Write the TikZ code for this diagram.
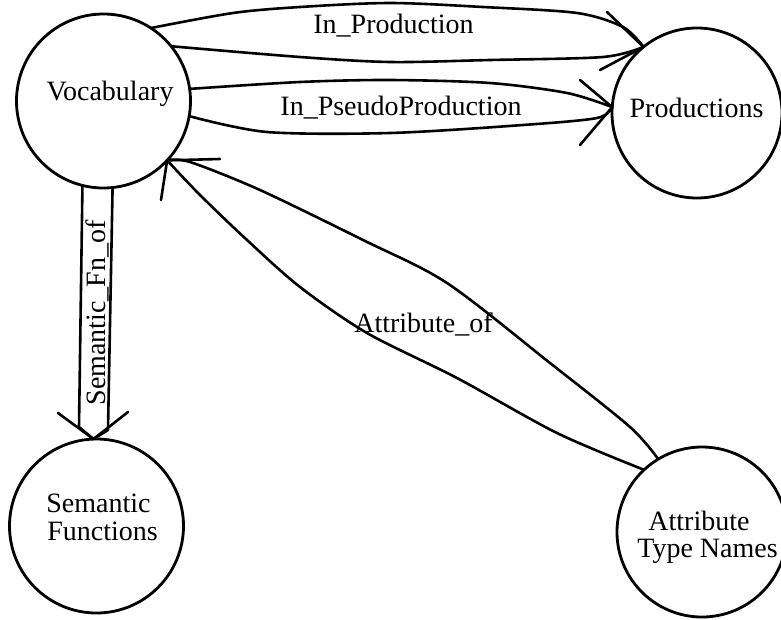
\documentclass[tikz,border=0pt]{standalone}
\usepackage{fontspec}
\setmainfont{Liberation Serif}
\begin{document}
\begin{tikzpicture}[x=1pt,y=-1pt,
  entity/.style={circle, draw, line width=2.8pt, minimum size=174pt, inner sep=0pt, outer sep=0pt},
  txt/.style={font=\fontsize{28}{28}\selectfont, inner sep=0pt, anchor=base},
  link/.style={line width=2.6pt, line cap=round, line join=round},
]
\useasboundingbox (0,0) rectangle (781,619);

% entities
\node[entity] (voc) at (103.5,101) {};
\node[entity, minimum size=170pt] (prod) at (697,113) {};
\node[entity] (sem) at (96.5,526) {};
\node[entity, minimum size=170pt] (att) at (702,532) {};

\node[txt] (voc-t) at (110,100) {Vocabulary};
\node[txt] (prod-t) at (696.5,117) {Productions};
\node[txt] (sem-t1) at (98.5,512) {Semantic};
\node[txt] (sem-t2) at (102.5,540) {Functions};
\node[txt] (att-t1) at (699,530) {Attribute};
\node[txt] (att-t2) at (707.5,557) {Type Names};

% barb ends of the open arrowheads
\coordinate (ipA) at (607,12);
\coordinate (ipB) at (600,70);
\coordinate (psA) at (580,80);
\coordinate (psB) at (580,145);
\coordinate (sfA) at (58,413);
\coordinate (sfB) at (128,412);
\coordinate (aoA) at (220,159);
\coordinate (aoB) at (161,200);

% In_Production
\draw[link] plot[smooth] coordinates {(voc.57) (233,13) (300,7) (390,3) (483,7) (577,13) (623,27) (prod.129)};
\draw[link] plot[smooth] coordinates {(voc.39) (300,57) (390,62) (490,60) (603,57) (prod.129)};
\draw[link] (ipA) -- (prod.129) -- (ipB);
\node[txt] (l-prod) at (393.5,33) {In\_Production};

% In_PseudoProduction
\draw[link] plot[smooth] coordinates {(voc.8) (300,82) (390,80) (490,83) (567,93) (prod.176)};
\draw[link] plot[smooth] coordinates {(voc.-10) (267,132) (390,133) (523,125) (597,118) (prod.176)};
\draw[link] (psA) -- (prod.176) -- (psB);
\node[txt] (l-pseudo) at (401,115) {In\_PseudoProduction};

% Semantic_Fn_of
\draw[link] (voc.256) -- (79,427) -- (sem.92);
\draw[link] (voc.-84) -- (108,430) -- (sem.92);
\draw[link] (sfA) -- (sem.92) -- (sfB);
\node[txt, rotate=90] (l-sem) at (105,313) {Semantic\_Fn\_of};

% Attribute_of
\draw[link] plot[smooth] coordinates {(att.121) (630,427) (550,363) (447,283) (363,240) (260,190) (190,162) (voc.-43)};
\draw[link] plot[smooth] coordinates {(att.133) (557,433) (457,378) (367,333) (300,287) (247,240) (200,195) (voc.-43)};
\draw[link] (aoA) -- (voc.-43) -- (aoB);
\node[txt] (l-attr) at (423.5,332) {Attribute\_of};
\end{tikzpicture}
\end{document}
